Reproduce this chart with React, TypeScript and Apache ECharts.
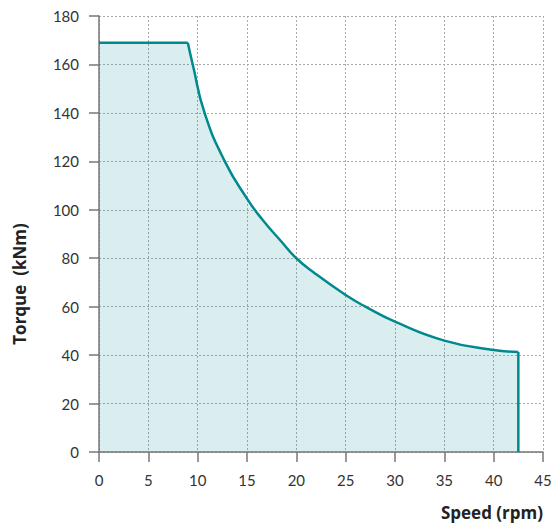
import React, { useEffect, useRef } from "react";
import * as echarts from "echarts";

// Speed (rpm) / Torque (kNm)
const flatSpeed = [0, 9];
const flatTorque = [169, 169];
const curveSpeed = [9, 9.5, 10.7, 12.75, 15, 16.55, 18.5, 20, 21.8, 25, 27, 30, 35, 40, 42.5];
const curveTorque = [169, 160, 140, 120, 104.6, 96, 86.8, 80, 74, 64.8, 60, 53.8, 46, 42.1, 41.3];
const dropSpeed = [42.5, 42.5];
const dropTorque = [41.3, 0];

const xTicks = { min: 0, max: 45, interval: 5 };
const yTicks = { min: 0, max: 180, interval: 20 };
const xName = "Speed (rpm)";
const yName = "Torque  (kNm)";

const zip = (a: number[], b: number[]) => a.map((v, i) => [v, b[i]]);

const TEAL = "#00898f";
const FONT = "Lato, 'Open Sans', sans-serif";
const NAME_FONT = "'Open Sans', Lato, sans-serif";

export default function App() {
  const ref = useRef<HTMLDivElement>(null);
  useEffect(() => {
    if (!ref.current) return;
    const chart = echarts.init(ref.current, undefined, { renderer: "svg" });
    const axisLineStyle = { color: "#777", width: 1.5 };
    const split = { show: true, lineStyle: { color: "#aaa", type: [2, 2] as any, width: 1 } };
    chart.setOption({
      animation: false,
      grid: { left: 99, right: 12, top: 16, bottom: 78, containLabel: false },
      xAxis: {
        type: "value",
        ...xTicks,
        axisLine: { show: true, lineStyle: axisLineStyle },
        axisTick: { show: true, length: 10, lineStyle: axisLineStyle },
        axisLabel: { margin: 20, color: "#333", fontSize: 15, fontFamily: FONT },
        splitLine: split,
      },
      yAxis: {
        type: "value",
        ...yTicks,
        axisLine: { show: true, lineStyle: axisLineStyle },
        axisTick: { show: true, length: 10, lineStyle: axisLineStyle },
        axisLabel: { margin: 20, color: "#333", fontSize: 15, fontFamily: FONT },
        splitLine: split,
      },
      graphic: [
        {
          type: "text",
          right: 12,
          top: 504,
          style: { text: xName, font: `bold 17px ${NAME_FONT}`, fill: "#222" },
        },
        {
          type: "text",
          x: 19,
          y: 284,
          rotation: Math.PI / 2,
          style: {
            text: yName,
            font: `bold 17px ${NAME_FONT}`,
            fill: "#222",
            align: "center",
            verticalAlign: "middle",
          },
        },
      ],
      series: [
        {
          type: "line",
          data: zip(flatSpeed, flatTorque),
          symbol: "none",
          lineStyle: { color: TEAL, width: 2.5 },
          areaStyle: { color: "rgba(0,137,143,0.2)", origin: "start" },
          z: 1,
        },
        {
          type: "line",
          data: zip(curveSpeed, curveTorque),
          symbol: "none",
          smooth: 0.5,
          lineStyle: { color: TEAL, width: 2.5 },
          areaStyle: { color: "rgba(0,137,143,0.2)", origin: "start" },
          z: 1,
        },
        {
          type: "line",
          data: zip(dropSpeed, dropTorque),
          symbol: "none",
          lineStyle: { color: TEAL, width: 2.5 },
          z: 2,
        },
      ],
    });
    return () => chart.dispose();
  }, []);
  return <div ref={ref} style={{ width: 555, height: 530, position: "absolute", left: 0, top: 0 }} />;
}
